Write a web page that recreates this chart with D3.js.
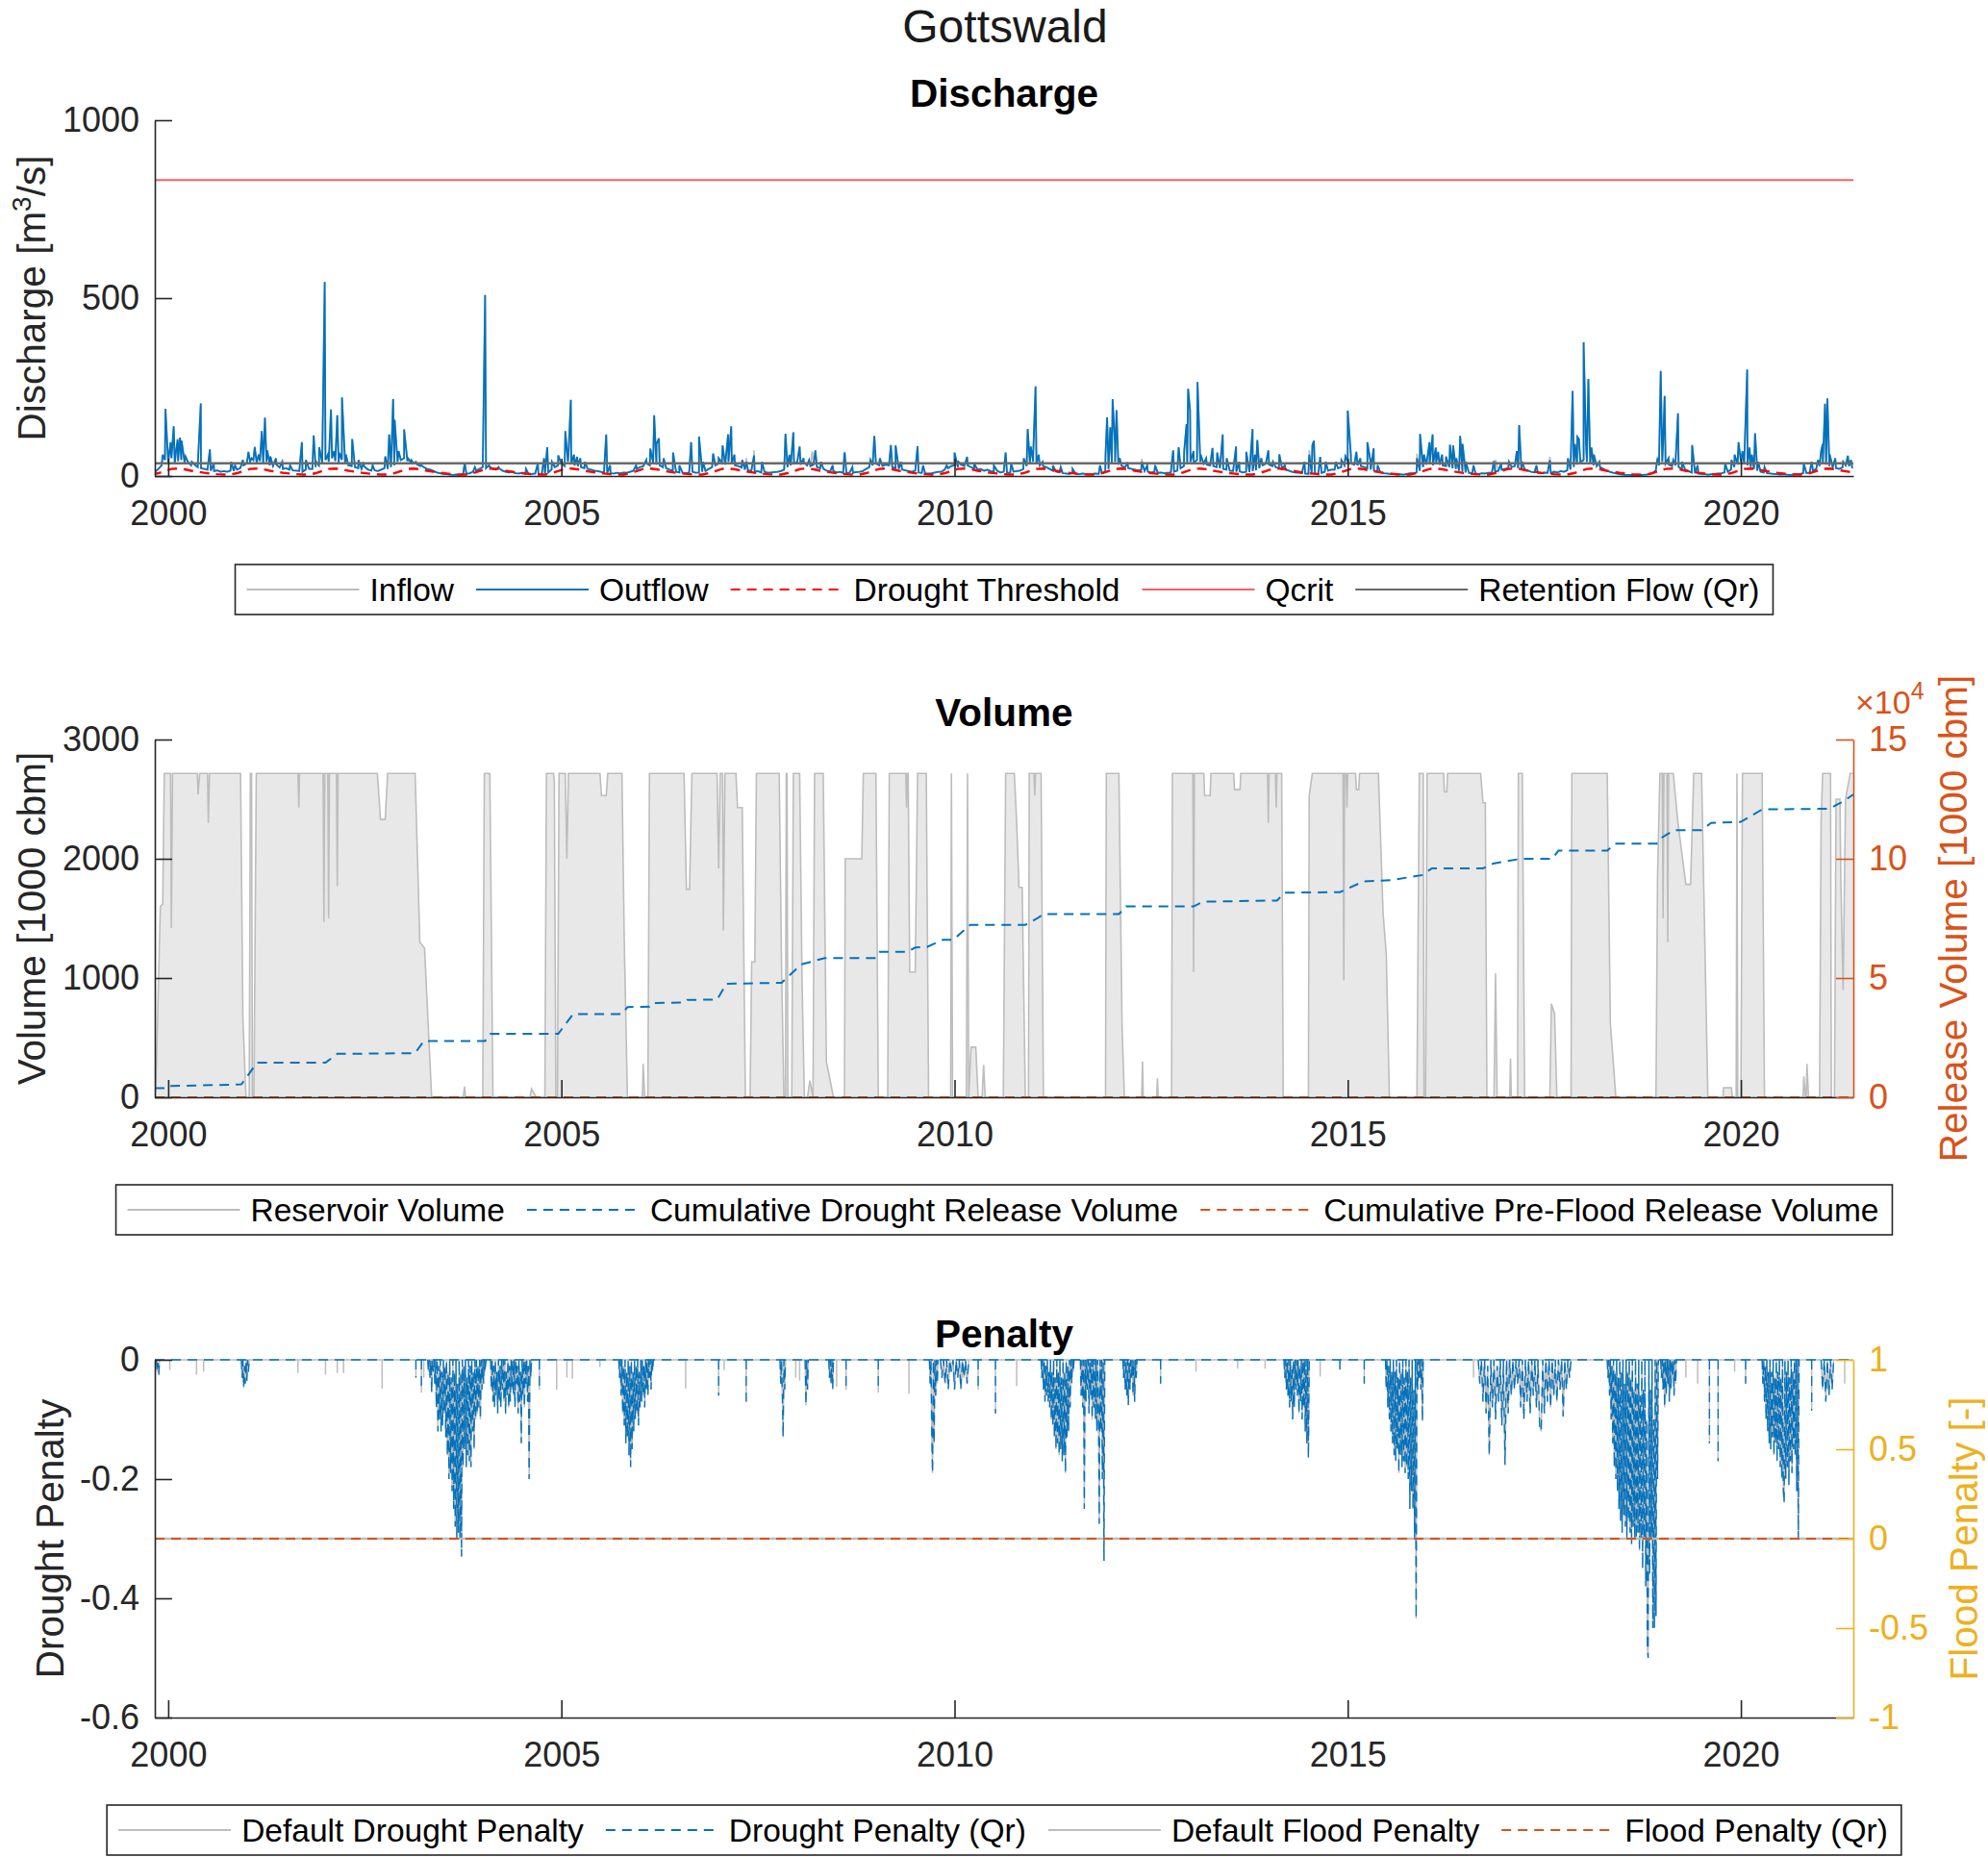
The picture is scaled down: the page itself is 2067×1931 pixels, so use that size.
<!DOCTYPE html>
<html><head><meta charset="utf-8">
<script src="https://cdn.jsdelivr.net/npm/d3@7"></script>
<style>body{margin:0;background:#fff}</style>
</head><body><script>
// ================= DATA =================
const timeDomain = [1999.83, 2021.43];               // decimal years
const xTickValues = [2000, 2005, 2010, 2015, 2020];
const xTickLabels = ["2000", "2005", "2010", "2015", "2020"];

// --- Discharge [m3/s] ---
const dischargeTicks = [0, 500, 1000];
const dischargeTickLabels = ["0", "500", "1000"];
const qcrit = 832;
const retentionFlow = 36;
// drought threshold climatology, Jan..Dec
const droughtThresholdMonthly = [20, 21, 19, 15, 12, 9, 7, 5, 4, 4, 8, 14];
// outflow semi-monthly base values starting Nov 1999 (one row per hydrological year Nov..Oct)
const outflowBaseStart = 1999.8333;
const outflowBase = [
 12,20,30,45,38,50,35,42,45,38,40,30,32,25,22,20,18,15,14,16,12,14,12,15,
 14,18,22,30,35,40,45,38,42,35,40,30,28,32,24,20,22,18,16,15,14,12,18,20,
 20,25,30,38,45,40,50,42,38,45,35,30,28,25,22,20,25,18,15,16,14,18,22,20,
 25,30,40,45,50,42,38,35,32,28,25,20,18,14,10,8,6,5,4,3,4,3,5,6,
 8,12,15,20,25,22,28,20,18,22,15,12,10,12,8,7,9,6,5,6,7,5,6,8,
 10,18,25,30,35,28,40,35,30,28,25,22,20,18,15,14,12,10,9,8,7,9,8,10,
 9,12,15,20,25,28,35,30,38,32,30,25,22,18,15,12,10,9,8,10,12,9,10,12,
 14,20,25,30,35,38,32,40,35,30,28,24,18,15,16,12,14,10,12,9,10,11,12,14,
 18,25,30,35,40,32,38,30,28,32,25,22,20,15,12,14,10,12,9,8,10,9,11,12,
 14,20,25,30,35,30,28,32,30,25,22,20,18,16,14,12,15,10,9,8,7,8,10,12,
 12,18,22,28,30,25,32,28,30,25,22,18,20,15,18,14,12,15,10,12,9,10,12,14,
 15,20,28,35,40,35,30,28,25,20,15,12,10,8,7,6,8,6,5,7,6,5,6,7,
 6,8,12,20,35,40,32,28,25,22,20,18,15,18,14,12,10,12,9,10,8,9,10,12,
 15,22,28,35,40,38,45,40,35,32,30,28,25,22,20,18,15,14,12,13,10,12,11,14,
 16,22,30,35,32,28,25,22,20,18,15,12,10,9,8,7,6,8,7,6,9,12,15,18,
 18,22,25,30,40,35,32,30,28,25,22,18,15,12,10,8,7,6,5,4,5,4,6,8,
 8,10,15,25,32,35,30,38,32,30,28,25,22,20,15,12,10,9,8,7,6,8,7,9,
 10,12,15,18,20,22,25,28,22,20,18,15,12,10,9,8,10,9,8,12,10,14,12,16,
 18,25,32,40,45,40,35,30,28,25,20,15,12,9,7,5,4,3,3,2,3,2,3,4,
 5,8,15,30,40,35,32,28,30,25,20,18,14,10,8,7,6,5,4,5,6,7,8,10,
 12,18,25,35,40,35,30,25,20,15,12,10,8,7,6,5,4,5,4,3,4,5,6,8,
 8,10,15,20,28,35,32,28,25,22,20,24,30,28,22
];
// outflow peaks [year, m3/s]
const outflowPeaks = [
 [1999.93,60],[1999.965,189],[1999.99,80],[2000.03,95],[2000.07,140],[2000.10,70],[2000.12,103],[2000.15,108],[2000.17,100],[2000.22,55],[2000.30,40],[2000.414,204],[2000.53,75],[2000.58,35],[2000.80,40],[2000.85,30],
 [2000.95,45],[2001.02,68],[2001.06,50],[2001.10,81],[2001.15,60],[2001.19,126],[2001.23,164],[2001.26,72],[2001.30,55],[2001.37,50],[2001.45,40],[2001.55,30],[2001.70,95],[2001.75,45],
 [2001.85,114],[2001.88,40],[2001.92,81],[2001.99,545],[2002.03,60],[2002.07,187],[2002.11,70],[2002.15,171],[2002.18,65],[2002.21,221],[2002.26,60],[2002.34,104],[2002.42,45],[2002.48,35],[2002.60,30],
 [2002.76,55],[2002.81,117],[2002.86,216],[2002.88,158],[2002.93,70],[2003.00,131],[2003.05,50],[2003.09,45],[2003.15,40],[2003.22,30],
 [2003.77,36],[2003.90,25],[2004.03,509],[2004.08,30],[2004.20,25],[2004.55,20],[2004.70,35],
 [2004.78,50],[2004.82,81],[2004.88,40],[2004.96,58],[2005.05,126],[2005.09,60],[2005.12,214],[2005.16,60],[2005.20,54],[2005.24,50],[2005.30,40],[2005.57,117],[2005.62,30],
 [2005.95,30],[2006.08,45],[2006.13,77],[2006.18,171],[2006.21,90],[2006.24,106],[2006.30,50],[2006.42,66],[2006.50,30],[2006.65,95],
 [2006.75,111],[2006.80,40],[2006.93,63],[2007.00,50],[2007.05,86],[2007.12,117],[2007.16,140],[2007.20,60],[2007.30,45],[2007.35,40],[2007.45,58],[2007.55,40],
 [2007.85,119],[2007.90,60],[2007.95,123],[2008.03,83],[2008.08,50],[2008.15,45],[2008.23,72],[2008.30,40],[2008.45,30],[2008.60,66],[2008.70,25],
 [2008.93,45],[2008.98,113],[2009.05,50],[2009.19,87],[2009.25,86],[2009.32,40],[2009.53,84],[2009.60,30],
 [2009.90,30],[2010.00,66],[2010.05,40],[2010.16,54],[2010.25,35],[2010.50,30],[2010.65,66],[2010.72,35],
 [2010.88,50],[2010.93,132],[2010.97,83],[2011.00,60],[2011.03,252],[2011.07,60],[2011.12,40],[2011.25,30],[2011.35,25],[2011.50,20],
 [2011.85,30],[2011.92,60],[2011.94,165],[2011.98,137],[2012.01,216],[2012.04,90],[2012.06,185],[2012.10,50],[2012.20,35],[2012.38,40],[2012.45,30],[2012.55,30],
 [2012.78,72],[2012.85,81],[2012.92,69],[2012.95,146],[2012.97,245],[2012.995,185],[2013.04,70],[2013.09,264],[2013.13,60],[2013.20,50],[2013.28,79],[2013.34,66],[2013.41,117],[2013.46,50],[2013.58,83],[2013.62,40],
 [2013.71,68],[2013.79,132],[2013.82,60],[2013.85,101],[2013.90,50],[2013.99,72],[2014.05,40],[2014.13,61],[2014.20,30],[2014.45,40],[2014.51,60],[2014.55,86],[2014.57,99],[2014.65,54],[2014.72,40],
 [2014.85,40],[2014.92,45],[2014.97,55],[2015.00,184],[2015.04,60],[2015.11,68],[2015.16,50],[2015.25,95],[2015.29,40],[2015.33,78],[2015.38,30],
 [2015.88,50],[2015.92,118],[2015.97,60],[2016.04,95],[2016.08,117],[2016.12,80],[2016.15,68],[2016.20,60],[2016.25,55],[2016.30,88],[2016.34,86],[2016.38,50],[2016.43,113],[2016.46,90],[2016.50,40],[2016.60,30],
 [2016.86,42],[2016.95,35],[2017.05,40],[2017.15,70],[2017.18,143],[2017.22,40],[2017.40,30],[2017.57,45],
 [2017.80,50],[2017.86,239],[2017.89,90],[2017.92,110],[2017.94,104],[2018.00,376],[2018.03,90],[2018.06,273],[2018.10,80],[2018.13,60],[2018.20,40],
 [2018.94,50],[2018.98,295],[2019.01,90],[2019.03,225],[2019.08,50],[2019.14,45],[2019.20,176],[2019.25,40],[2019.38,87],[2019.45,30],
 [2019.80,35],[2019.88,45],[2019.92,60],[2019.97,95],[2020.02,70],[2020.08,299],[2020.11,80],[2020.14,60],[2020.18,120],[2020.22,40],[2020.30,25],
 [2020.80,35],[2020.90,40],[2020.98,45],[2021.02,70],[2021.04,90],[2021.07,203],[2021.10,218],[2021.13,60],[2021.20,50],[2021.30,40],[2021.36,57],[2021.40,45]
];
// inflow peaks where inflow differs from outflow [year, m3/s]
const inflowPeaks = [
 [2001.10,84],[2003.78,30],[2005.95,35],[2007.35,50],[2007.45,72],[2008.19,69],[2008.61,66],[2009.53,84],[2012.38,48],
 [2014.51,72],[2014.97,60],[2015.88,63],[2016.88,45],[2017.57,54],[2018.94,56],[2019.92,50],[2021.36,57]
];

// --- Volume [1000 cbm] ---
const volumeTicks = [0, 1000, 2000, 3000];
const volumeTickLabels = ["0", "1000", "2000", "3000"];
const releaseTicks = [0, 5, 10, 15];                 // x 10^4
const releaseTickLabels = ["0", "5", "10", "15"];
const FS = 2716;                                      // full storage level
const reservoirVolume = [
 [1999.83,0],[1999.845,120],[1999.90,1600],[1999.93,1620],[1999.95,FS],[2000.03,FS],[2000.04,1420],[2000.055,FS],[2000.37,FS],[2000.38,2540],[2000.40,FS],[2000.50,FS],[2000.51,2300],[2000.525,FS],[2000.92,FS],[2000.95,650],[2000.99,0],[2001.03,0],[2001.045,FS],[2001.06,FS],[2001.07,0],[2001.09,0],[2001.12,FS],
 [2001.65,FS],[2001.66,2430],[2001.67,FS],[2001.97,FS],[2001.98,1470],[2001.99,FS],[2002.03,FS],[2002.04,1500],[2002.05,FS],[2002.14,FS],[2002.15,1770],[2002.16,FS],[2002.66,FS],[2002.70,2330],[2002.76,2330],[2002.79,FS],[2003.14,FS],[2003.20,1300],[2003.26,1250],[2003.35,0],
 [2003.75,0],[2003.77,90],[2003.78,0],[2004.00,0],[2004.02,FS],[2004.09,FS],[2004.13,0],[2004.60,0],[2004.62,70],[2004.68,0],[2004.79,0],[2004.81,FS],[2004.90,FS],[2004.91,2650],[2004.93,0],[2004.95,0],[2004.97,FS],[2005.05,FS],[2005.07,2000],[2005.09,FS],[2005.49,FS],[2005.51,2530],[2005.57,2530],[2005.59,FS],[2005.77,FS],[2005.80,1300],[2005.84,0],
 [2006.03,0],[2006.04,280],[2006.06,0],[2006.10,0],[2006.12,FS],[2006.56,FS],[2006.59,1745],[2006.63,1745],[2006.66,FS],[2006.98,FS],[2007.00,1920],[2007.02,FS],[2007.05,FS],[2007.06,1400],[2007.08,FS],[2007.22,FS],[2007.24,2430],[2007.30,2430],[2007.34,0],[2007.40,0],[2007.42,1135],[2007.46,1135],[2007.48,FS],[2007.77,FS],[2007.80,1100],[2007.83,0],[2007.85,0],[2007.86,FS],[2007.87,FS],[2007.88,0],[2007.93,0],[2007.95,FS],[2008.03,FS],[2008.06,1000],[2008.09,0],[2008.13,0],[2008.16,140],[2008.20,0],[2008.22,FS],[2008.33,FS],[2008.37,300],[2008.46,0],
 [2008.60,0],[2008.61,2000],[2008.82,2000],[2008.84,FS],[2009.00,FS],[2009.03,0],[2009.15,0],[2009.17,FS],[2009.38,FS],[2009.39,2430],[2009.40,FS],[2009.41,FS],[2009.43,1050],[2009.50,1050],[2009.53,FS],[2009.64,FS],[2009.67,0],[2009.95,0],[2009.96,FS],[2009.975,0],[2010.15,0],[2010.165,FS],[2010.18,0],[2010.21,420],[2010.27,420],[2010.30,0],[2010.35,0],[2010.37,270],[2010.39,0],[2010.62,0],[2010.65,FS],[2010.76,FS],[2010.79,2300],[2010.82,1760],[2010.86,1760],[2010.90,0],[2010.94,0],[2010.95,FS],[2011.01,FS],[2011.02,2530],[2011.03,FS],[2011.10,FS],[2011.13,0],
 [2011.92,0],[2011.93,FS],[2012.09,FS],[2012.13,600],[2012.16,0],[2012.38,0],[2012.39,300],[2012.40,0],[2012.57,0],[2012.58,160],[2012.59,0],[2012.76,0],[2012.77,FS],[2013.03,FS],[2013.04,1050],[2013.05,FS],[2013.17,FS],[2013.18,2530],[2013.25,2530],[2013.26,FS],[2013.55,FS],[2013.56,2580],[2013.63,2580],[2013.64,FS],[2013.98,FS],[2013.99,2300],[2014.00,FS],[2014.08,FS],[2014.09,2430],[2014.10,FS],[2014.16,FS],[2014.18,0],
 [2014.50,0],[2014.51,2530],[2014.55,FS],[2014.94,FS],[2014.95,980],[2014.96,FS],[2014.98,FS],[2014.99,2430],[2015.00,FS],[2015.10,FS],[2015.11,2580],[2015.14,2580],[2015.15,FS],[2015.39,FS],[2015.45,1540],[2015.49,1200],[2015.53,0],[2015.88,0],[2015.91,FS],[2015.96,FS],[2015.97,0],[2015.99,0],[2016.01,FS],[2016.22,FS],[2016.23,2560],[2016.26,2560],[2016.27,FS],[2016.69,FS],[2016.72,2470],[2016.75,2470],[2016.77,0],
 [2016.86,0],[2016.88,1040],[2016.90,0],[2017.06,0],[2017.07,325],[2017.08,0],[2017.16,0],[2017.17,FS],[2017.22,FS],[2017.25,0],[2017.57,0],[2017.59,785],[2017.63,700],[2017.66,0],[2017.84,0],[2017.85,FS],[2018.30,FS],[2018.34,620],[2018.41,0],
 [2018.92,0],[2018.94,1850],[2018.97,FS],[2019.00,FS],[2019.01,1500],[2019.02,FS],[2019.06,FS],[2019.07,1300],[2019.08,FS],[2019.14,FS],[2019.20,2300],[2019.30,1785],[2019.36,1785],[2019.40,FS],[2019.50,FS],[2019.55,1000],[2019.58,0],[2019.77,0],[2019.78,80],[2019.88,80],[2019.89,0],[2019.94,0],[2019.95,FS],[2019.96,0],[2020.00,0],[2020.02,FS],[2020.27,FS],[2020.30,0],
 [2020.79,0],[2020.80,175],[2020.82,0],[2020.83,0],[2020.84,280],[2020.86,0],[2021.00,0],[2021.02,2330],[2021.04,FS],[2021.14,FS],[2021.15,0],[2021.19,0],[2021.21,2500],[2021.26,2500],[2021.27,1840],[2021.30,900],[2021.33,2500],[2021.39,FS],[2021.43,FS]
];
// cumulative drought release volume (x 10^4 * 1000 cbm)
const cumDroughtRelease = [
 [1999.83,0.38],[1999.97,0.38],[2000.00,0.47],[2000.93,0.54],[2001.13,1.45],[2002.00,1.45],[2002.15,1.82],[2003.14,1.85],[2003.25,2.36],[2004.03,2.36],[2004.10,2.66],[2004.96,2.66],[2005.15,3.49],[2005.77,3.49],[2005.84,3.78],[2006.12,3.80],[2006.16,3.95],[2006.55,3.97],[2006.60,4.08],[2006.98,4.10],[2007.10,4.76],[2007.80,4.80],[2008.05,5.57],[2008.35,5.84],[2009.00,5.84],[2009.05,6.10],[2009.40,6.10],[2009.50,6.28],[2009.65,6.30],[2009.85,6.60],[2009.98,6.60],[2010.20,7.23],[2010.90,7.23],[2011.05,7.50],[2011.13,7.68],[2012.09,7.68],[2012.18,8.00],[2013.04,8.00],[2013.16,8.20],[2014.10,8.25],[2014.20,8.58],[2014.90,8.60],[2015.00,8.75],[2015.20,9.05],[2015.55,9.10],[2015.95,9.32],[2016.07,9.60],[2016.72,9.60],[2016.85,9.80],[2017.20,10.0],[2017.60,10.0],[2017.68,10.34],[2018.30,10.34],[2018.40,10.64],[2018.93,10.64],[2019.00,10.90],[2019.15,11.20],[2019.50,11.20],[2019.62,11.50],[2020.00,11.55],[2020.27,12.07],[2021.13,12.10],[2021.24,12.30],[2021.30,12.40],[2021.43,12.70]
];
const cumPreFloodRelease = [[1999.83,0],[2021.43,0]];

// --- Penalty ---
const droughtTicks = [-0.6, -0.4, -0.2, 0];
const droughtTickLabels = ["-0.6", "-0.4", "-0.2", "0"];
const floodTicks = [-1, -0.5, 0, 0.5, 1];
const floodTickLabels = ["-1", "-0.5", "0", "0.5", "1"];
const penaltyZero = [[1999.83,0],[2021.43,0]];
const floodPenaltyDefault = [[1999.83,0],[2021.43,0]];
const floodPenaltyQr = [[1999.83,0],[2021.43,0]];
// drought penalty episodes (shared by default and Qr), values every dt years from t0
const droughtEpisodes = [
 {t0:1999.85, dt:0.01, v:[0,-0.02,-0.005,-0.025,0]},
 {t0:2000.93, dt:0.01, v:[0,-0.03,0,-0.047,-0.01,-0.04,0,-0.035,0,-0.02,0]},
 {t0:2003.30, dt:0.01, v:[0,-.02,0,-.03,0,-.055,0,-.02,0,-.04,0,-.08,0,-.12,-.01,-.1,0,-.12,-.02,-.11,0,-.09,-.01,-.13,0,-.16,-.02,-.2,0,-.19,-.03,-.22,0,-.25,-.02,-.28,0,-.3,-.04,-.29,0,-.3,-.02,-.33,0,-.18,-.01,-.15,0,-.18,-.03,-.16,0,-.17,-.01,-.18,0,-.12,-.02,-.15,0,-.1,0,-.09,-.01,-.08,0,-.1,0,-.05,0,-.04,0,-.02,0]},
 {t0:2004.10, dt:0.01, v:[0,-.05,0,-.07,-.01,-.08,0,-.06,-.02,-.09,0,-.07,-.01,-.08,0,-.05,0,-.07,0,-.09,-.02,-.06,0,-.08,-.01,-.07,0,-.05,0,-.06,0,-.08,0,-.04,-.01,-.09,0,-.07,-.02,-.14,0,-.06,0,-.08,0,-.04,0,-.07,-.01,-.2,0,-.03,0]},
 {t0:2005.73, dt:0.01, v:[0,-.03,0,-.06,0,-.09,-.01,-.11,0,-.14,-.02,-.13,0,-.16,-.01,-.18,0,-.15,-.02,-.12,0,-.1,-.01,-.09,0,-.11,-.02,-.08,0,-.07,0,-.06,-.01,-.08,0,-.05,0,-.06,0,-.03,0,-.05,0,-.02,0]},
 {t0:2007.78, dt:0.01, v:[0,-.04,0,-.06,-.13,0,-.05,0]},
 {t0:2008.10, dt:0.01, v:[0,-.076,0,-.05,0]},
 {t0:2008.40, dt:0.01, v:[0,-.03,0,-.04,0,-.05,0]},
 {t0:2009.68, dt:0.01, v:[0,-.04,0,-.12,-.19,0,-.14,0,-.06,0,-.04,0]},
 {t0:2009.82, dt:0.02, v:[0,-.03,0,-.04,0,-.05,0,-.02,0,-.05,0,-.03,0,-.05,0,-.03,0,-.04,0]},
 {t0:2011.10, dt:0.01, v:[0,-.03,0,-.05,0,-.07,-.01,-.06,0,-.07,-.02,-.08,0,-.1,-.02,-.11,0,-.13,-.03,-.15,0,-.14,-.02,-.16,0,-.15,-.03,-.17,0,-.16,-.02,-.19,0,-.13,-.01,-.12,0,-.08,0,-.04,0,-.02,0]},
 {t0:2011.60, dt:0.01, v:[0,-.06,0,-.08,0,-.25,0,-.07,0,-.05,0,-.09,0,-.06,0,-.1,0,-.08,0,-.1,0,-.12,0,-.07,-.275,0,-.12,0,-.2,0,-.337,0]},
 {t0:2012.14, dt:0.01, v:[0,-.03,0,-.05,0,-.06,0,-.076,0,-.05,0,-.03,0,-.06,0,-.07,0,-.03,0]},
 {t0:2014.19, dt:0.01, v:[0,-.03,0,-.05,0,-.06,0,-.08,0,-.07,-.01,-.1,0,-.08,0,-.05,0,-.06,0,-.09,-.01,-.07,0,-.1,0,-.08,0,-.12,0,-.14,0,-.165,0]},
 {t0:2015.48, dt:0.01, v:[0,-.05,0,-.08,-.01,-.1,0,-.12,-.02,-.14,0,-.16,-.02,-.17,0,-.15,-.03,-.19,0,-.16,-.02,-.18,0,-.17,-.03,-.19,0,-.18,-.02,-.2,0,-.25,-.03,-.22,0,-.25,-.05,-.3,0,-.434,0,-.05,0,-.03,0,-.05,0,-.103,0]},
 {t0:2016.66, dt:0.02, v:[0,-.04,0,-.07,0,-.09,-.01,-.16,0,-.08,0,-.1,-.01,-.07,0,-.11,0,-.176,0,-.09,0,-.06,0,-.05,0,-.04,0,-.08,0,-.1,0,-.07,0,-.09,0,-.06,0,-.08,0,-.11,-.12,0,-.09,0,-.07,0,-.08,0,-.06,0,-.07,0,-.05,0,-.095,0,-.05,0,-.03,0]},
 {t0:2018.30, dt:0.01, v:[0,-.03,0,-.06,0,-.1,-.01,-.14,0,-.18,-.02,-.2,0,-.22,-.03,-.25,0,-.27,-.02,-.29,0,-.26,-.04,-.28,0,-.3,-.02,-.27,0,-.29,-.03,-.31,0,-.28,-.05,-.3,0,-.3,-.04,-.29,0,-.32,-.06,-.3,0,-.35,-.05,-.3,0,-.38,-.1,-.48,-.5,0,-.36,-.05,-.3,0,-.45,-.1,-.45,0,-.43,0,-.2,0]},
 {t0:2018.98, dt:0.01, v:[0,-.03,0,-.05,0,-.08,0,-.06,0,-.04,0,-.07,0,-.05,0,-.03,0,-.06,0,-.04,0]},
 {t0:2020.27, dt:0.01, v:[0,-.04,0,-.07,-.01,-.1,0,-.12,-.02,-.14,0,-.15,-.02,-.13,0,-.16,-.03,-.14,0,-.17,-.02,-.15,0,-.18,-.03,-.2,0,-.22,-.24,0,-.2,-.02,-.18,0,-.21,-.03,-.17,0,-.19,-.02,-.15,0,-.16,0,-.22,0,-.3,0]},
 {t0:2021.02, dt:0.02, v:[0,-.05,0,-.07,0,-.06,0,-.05,0]}
];
// isolated drought penalty spikes present in both series [year, value]
const droughtSpikes = [
 [2003.15,-0.03],[2003.22,-0.055],[2004.72,-0.05],[2007.00,-0.06],[2007.35,-0.07],[2008.62,-0.05],[2009.03,-0.055],
 [2010.30,-0.05],[2010.52,-0.09],[2012.62,-0.04],[2014.90,-0.017],[2015.21,-0.04],[2019.60,-0.14],[2019.71,-0.17],
 [2020.06,-0.04],[2020.90,-0.085]
];
// spikes present only in the default drought penalty [year, value]
const defaultOnlySpikes = [
 [2000.02,-0.017],[2000.36,-0.025],[2000.45,-0.02],[2001.65,-0.022],[2002.00,-0.025],[2002.15,-0.022],[2002.23,-0.022],[2002.72,-0.048],
 [2003.25,-0.03],[2004.94,-0.05],[2005.07,-0.03],[2005.14,-0.032],[2005.49,-0.012],[2006.58,-0.048],[2007.07,-0.017],[2007.98,-0.03],
 [2008.03,-0.035],[2008.50,-0.045],[2009.42,-0.057],[2010.10,-0.03],[2010.79,-0.044],[2013.07,-0.02],[2013.60,-0.015],[2013.95,-0.015],
 [2014.65,-0.028],[2016.60,-0.03],[2017.05,-0.04],[2018.34,-0.06],[2019.30,-0.03],[2019.45,-0.04],[2019.92,-0.02],[2021.32,-0.04]
];

// ================= DRAWING =================
const FONT = '"Liberation Sans", Arial, Helvetica, sans-serif';
const AXC = '#262626';
const BLUE = '#0072BD', ORANGE = '#D95319', YELLOW = '#EDB120';
const LGREY = '#bdbdbd';
const DASH = '10,7';
const X0 = 161, X1 = 1927, TICK = 18;

const svg = d3.select('body').append('svg')
  .attr('width', 2067).attr('height', 1931)
  .style('font-family', FONT);

const x = d3.scaleLinear().domain(timeDomain).range([X0, X1]);

function styleAxis(g, color, fs) {
  g.attr('font-family', FONT).attr('font-size', fs).style('color', color);
  g.selectAll('path,line').attr('stroke-width', 1.6);
}
function xAxis(bottom) {
  const g = svg.append('g').attr('transform', `translate(0,${bottom})`)
    .call(d3.axisBottom(x).tickValues(xTickValues).tickFormat((d,i)=>xTickLabels[i])
      .tickSize(-TICK).tickSizeOuter(0).tickPadding(25));
  styleAxis(g, AXC, 36);
}
function yAxisLeft(y, ticks, labels) {
  const g = svg.append('g').attr('transform', `translate(${X0},0)`)
    .call(d3.axisLeft(y).tickValues(ticks).tickFormat((d,i)=>labels[i])
      .tickSize(-TICK).tickSizeOuter(0).tickPadding(16));
  styleAxis(g, AXC, 36);
}
function yAxisRight(y, ticks, labels, color) {
  const g = svg.append('g').attr('transform', `translate(${X1},0)`)
    .call(d3.axisRight(y).tickValues(ticks).tickFormat((d,i)=>labels[i])
      .tickSize(-TICK).tickSizeOuter(0).tickPadding(16));
  styleAxis(g, color, 36);
}
function title(txt, yb) {
  svg.append('text').attr('x', (X0+X1)/2).attr('y', yb).attr('text-anchor','middle')
    .attr('font-size', 40.5).attr('font-weight','bold').attr('fill','#000').text(txt);
}
function vlabel(txt, xb, yc, color) {
  return svg.append('text').attr('transform', `translate(${xb},${yc}) rotate(-90)`)
    .attr('text-anchor','middle').attr('font-size', 40.5).attr('fill', color).text(txt);
}
function clip(id, top, bottom) {
  svg.append('clipPath').attr('id', id).append('rect')
    .attr('x', X0).attr('y', top - 4).attr('width', X1 - X0).attr('height', bottom - top + 8);
}
function legend(cy, items) {
  const g = svg.append('g');
  const box = g.append('rect').attr('fill','#fff').attr('stroke', AXC).attr('stroke-width', 1.6);
  const pad = 12, tok = 117, gap = 11, itemGap = 23;
  let cx = pad;
  items.forEach((it, i) => {
    g.append('line').attr('x1', cx).attr('x2', cx + tok).attr('y1', cy).attr('y2', cy)
      .attr('stroke', it.color).attr('stroke-width', it.w || 1.8)
      .attr('stroke-dasharray', it.dash ? DASH : null);
    const t = g.append('text').attr('x', cx + tok + gap).attr('y', cy + 12)
      .attr('font-size', 33.5).attr('fill', '#000').text(it.label);
    cx += tok + gap + t.node().getComputedTextLength() + (i < items.length - 1 ? itemGap : pad + 2);
  });
  const wdt = cx;
  box.attr('x', 0).attr('y', cy - 26).attr('width', wdt).attr('height', 52);
  g.attr('transform', `translate(${(X0+X1)/2 - wdt/2},0)`);
}

// ---------- Title ----------
svg.append('text').attr('x', 1045).attr('y', 44).attr('text-anchor','middle')
  .attr('font-size', 48).attr('fill', '#1a1a1a').text('Gottswald');

// ---------- Panel 1: Discharge ----------
{
  const top = 125, bottom = 495;
  const y = d3.scaleLinear().domain([0, 1000]).range([bottom, top]);
  clip('c1', top, bottom);
  const g = svg.append('g').attr('clip-path', 'url(#c1)');
  const line = d3.line().x(d => x(d[0])).y(d => y(d[1]));
  const base = outflowBase.map((v, i) => [outflowBaseStart + i / 24, v]);
  const outflow = base.concat(outflowPeaks).sort((a, b) => a[0] - b[0]);
  const inflow = base.concat(outflowPeaks, inflowPeaks).sort((a, b) => a[0] - b[0]);
  const thr = [];
  for (let yr = 1999; yr <= 2021; yr++) droughtThresholdMonthly.forEach((v, m) => {
    const t = yr + (m + 0.5) / 12;
    if (t >= timeDomain[0] - 0.05 && t <= timeDomain[1] + 0.05) thr.push([t, v]);
  });
  g.append('path').datum(inflow).attr('d', line).attr('fill','none').attr('stroke', LGREY).attr('stroke-width', 1.8);
  g.append('path').datum(outflow).attr('d', line).attr('fill','none').attr('stroke', BLUE).attr('stroke-width', 1.8);
  g.append('path').datum(thr).attr('d', line).attr('fill','none').attr('stroke', '#ff0000').attr('stroke-width', 2.4).attr('stroke-dasharray', DASH);
  g.append('path').datum([[timeDomain[0], qcrit], [timeDomain[1], qcrit]]).attr('d', line).attr('fill','none').attr('stroke', '#ff5f5f').attr('stroke-width', 2);
  g.append('path').datum([[timeDomain[0], retentionFlow], [timeDomain[1], retentionFlow]]).attr('d', line).attr('fill','none').attr('stroke', '#6a6a6a').attr('stroke-width', 2.4);
  xAxis(bottom);
  yAxisLeft(y, dischargeTicks, dischargeTickLabels);
  title('Discharge', 111);
  const lab = svg.append('text').attr('transform', `translate(47,${(top+bottom)/2}) rotate(-90)`)
    .attr('text-anchor','middle').attr('font-size', 40.5).attr('fill', AXC);
  lab.append('tspan').text('Discharge [m');
  lab.append('tspan').attr('dy', -15).attr('font-size', 28).text('3');
  lab.append('tspan').attr('dy', 15).text('/s]');
  legend(613, [
    {label:'Inflow', color: LGREY},
    {label:'Outflow', color: BLUE},
    {label:'Drought Threshold', color:'#ff0000', dash:true},
    {label:'Qcrit', color:'#ff5f5f'},
    {label:'Retention Flow (Qr)', color:'#6a6a6a'}
  ]);
}

// ---------- Panel 2: Volume ----------
{
  const top = 769, bottom = 1141;
  const y = d3.scaleLinear().domain([0, 3000]).range([bottom, top]);
  const yr = d3.scaleLinear().domain([0, 15]).range([bottom, top]);
  clip('c2', top, bottom);
  const g = svg.append('g').attr('clip-path', 'url(#c2)');
  const area = d3.area().x(d => x(d[0])).y0(y(0)).y1(d => y(d[1]));
  const line = d3.line().x(d => x(d[0])).y(d => y(d[1]));
  const liner = d3.line().x(d => x(d[0])).y(d => yr(d[1]));
  g.append('path').datum(reservoirVolume).attr('d', area).attr('fill', '#e8e8e8');
  g.append('path').datum(reservoirVolume).attr('d', line).attr('fill','none').attr('stroke', LGREY).attr('stroke-width', 1.6);
  g.append('path').datum(cumDroughtRelease).attr('d', liner).attr('fill','none').attr('stroke', BLUE).attr('stroke-width', 2).attr('stroke-dasharray', DASH);
  g.append('path').datum(cumPreFloodRelease).attr('d', liner).attr('fill','none').attr('stroke', ORANGE).attr('stroke-width', 2).attr('stroke-dasharray', DASH);
  xAxis(bottom);
  yAxisLeft(y, volumeTicks, volumeTickLabels);
  yAxisRight(yr, releaseTicks, releaseTickLabels, ORANGE);
  title('Volume', 755);
  vlabel('Volume [1000 cbm]', 47, (top+bottom)/2, AXC);
  vlabel('Release Volume [1000 cbm]', 2045, (top+bottom)/2, ORANGE);
  const ex = svg.append('text').attr('x', 1929).attr('y', 742).attr('font-size', 34).attr('fill', ORANGE);
  ex.append('tspan').text('\u00d710');
  ex.append('tspan').attr('dy', -15).attr('font-size', 25).text('4');
  legend(1258, [
    {label:'Reservoir Volume', color: LGREY},
    {label:'Cumulative Drought Release Volume', color: BLUE, dash:true},
    {label:'Cumulative Pre-Flood Release Volume', color: ORANGE, dash:true}
  ]);
}

// ---------- Panel 3: Penalty ----------
{
  const top = 1414, bottom = 1786;
  const y = d3.scaleLinear().domain([-0.6, 0]).range([bottom, top]);
  const yr = d3.scaleLinear().domain([-1, 1]).range([bottom, top]);
  clip('c3', top, bottom);
  const g = svg.append('g').attr('clip-path', 'url(#c3)');
  const line = d3.line().x(d => x(d[0])).y(d => y(d[1]));
  const liner = d3.line().x(d => x(d[0])).y(d => yr(d[1]));
  const epPts = e => e.v.map((v, i) => [e.t0 + i * e.dt, v]);
  const spikePath = d => `M${x(d[0])},${y(0)}V${y(d[1])}`;
  // default drought penalty (grey, solid)
  const gd = g.append('g').attr('fill','none').attr('stroke', LGREY).attr('stroke-width', 1.5);
  gd.append('path').datum(penaltyZero).attr('d', line);
  droughtEpisodes.forEach(e => gd.append('path').datum(epPts(e)).attr('d', line));
  droughtSpikes.concat(defaultOnlySpikes).forEach(s => gd.append('path').attr('d', spikePath(s)));
  // drought penalty (Qr) (blue, dashed)
  const gq = g.append('g').attr('fill','none').attr('stroke', BLUE).attr('stroke-width', 1.3).attr('stroke-dasharray', DASH);
  gq.append('path').datum(penaltyZero).attr('d', line);
  droughtEpisodes.forEach(e => gq.append('path').datum(epPts(e)).attr('d', line));
  droughtSpikes.forEach(s => gq.append('path').attr('d', spikePath(s)));
  // flood penalties (right axis)
  g.append('path').datum(floodPenaltyDefault).attr('d', liner).attr('fill','none').attr('stroke', LGREY).attr('stroke-width', 2.4);
  g.append('path').datum(floodPenaltyQr).attr('d', liner).attr('fill','none').attr('stroke', ORANGE).attr('stroke-width', 2).attr('stroke-dasharray', DASH);
  xAxis(bottom);
  yAxisLeft(y, droughtTicks, droughtTickLabels);
  yAxisRight(yr, floodTicks, floodTickLabels, YELLOW);
  title('Penalty', 1401);
  vlabel('Drought Penalty', 66, (top+bottom)/2, AXC);
  vlabel('Flood Penalty [-]', 2056, (top+bottom)/2, YELLOW);
  legend(1903, [
    {label:'Default Drought Penalty', color: LGREY},
    {label:'Drought Penalty (Qr)', color: BLUE, dash:true},
    {label:'Default Flood Penalty', color: LGREY},
    {label:'Flood Penalty (Qr)', color: ORANGE, dash:true}
  ]);
}
</script></body></html>
